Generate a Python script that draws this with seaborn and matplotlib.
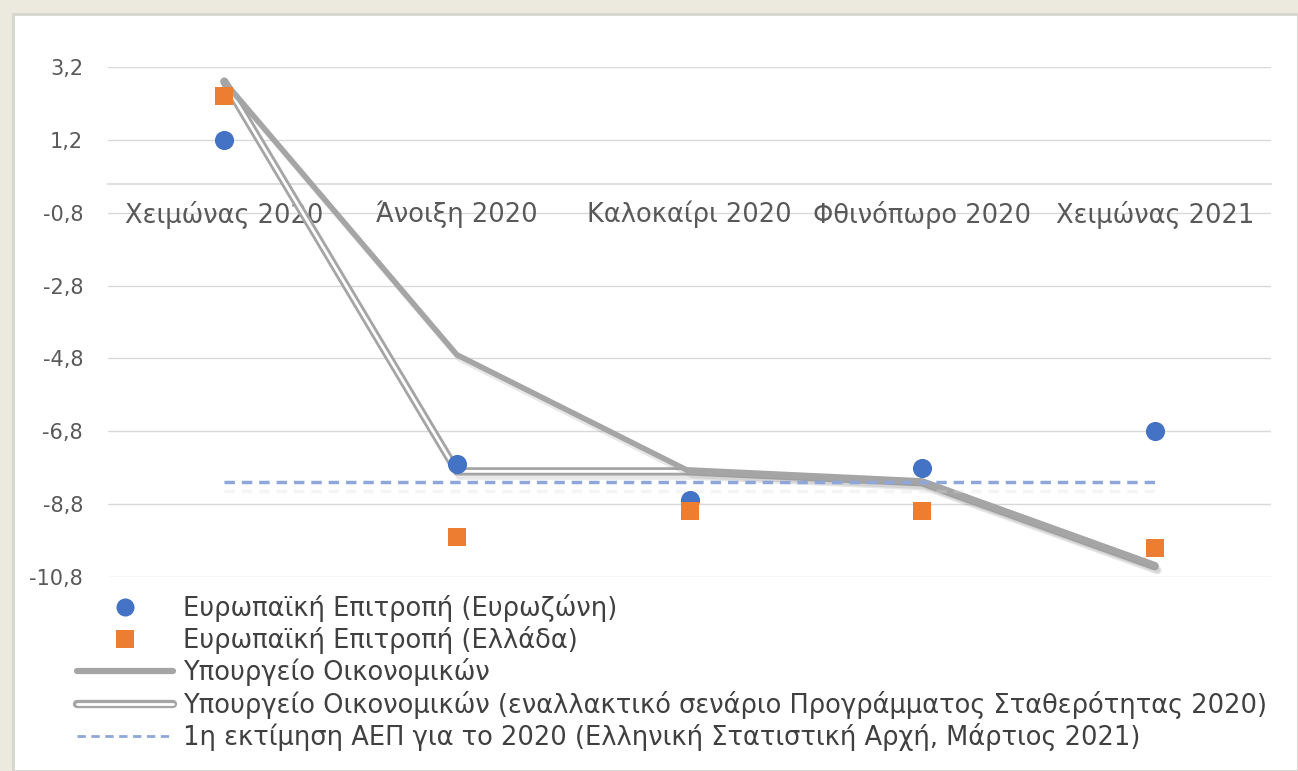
import matplotlib
matplotlib.use("Agg")
import matplotlib.pyplot as plt
import seaborn as sns
import pandas as pd
from matplotlib.lines import Line2D
from matplotlib.legend_handler import HandlerTuple
from matplotlib import patheffects as pe
from matplotlib.patches import Rectangle

# ---------------- data ----------------
categories = ["Χειμώνας 2020", "Άνοιξη 2020", "Καλοκαίρι 2020",
              "Φθινόπωρο 2020", "Χειμώνας 2021"]
ec_eurozone = [1.2, -7.7, -8.7, -7.8, -6.8]
ec_greece = [2.4, -9.7, -9.0, -9.0, -10.0]
minfin = [2.8, -4.7, -7.9, -8.2, -10.5]
minfin_alt = [2.8, -7.9, -7.9, -8.2, -10.5]
elstat_2020 = [-8.2, -8.2, -8.2, -8.2, -8.2]

y_ticks = [3.2, 1.2, -0.8, -2.8, -4.8, -6.8, -8.8, -10.8]
y_tick_labels = ["3,2", "1,2", "-0,8", "-2,8", "-4,8", "-6,8", "-8,8", "-10,8"]

series_labels = [
    "Ευρωπαϊκή Επιτροπή (Ευρωζώνη)",
    "Ευρωπαϊκή Επιτροπή (Ελλάδα)",
    "Υπουργείο Οικονομικών",
    "Υπουργείο Οικονομικών (εναλλακτικό σενάριο Προγράμματος Σταθερότητας 2020)",
    "1η εκτίμηση ΑΕΠ για το 2020 (Ελληνική Στατιστική Αρχή, Μάρτιος 2021)",
]

df = pd.DataFrame({
    "season": categories,
    "ec_eurozone": ec_eurozone,
    "ec_greece": ec_greece,
    "minfin": minfin,
    "minfin_alt": minfin_alt,
    "elstat": elstat_2020,
})

# ---------------- style ----------------
sns.set_theme(style="white")
plt.rcParams['font.family'] = ['DejaVu Sans']

BLUE = "#4472C4"
ORANGE = "#ED7D31"
GRAY = "#A5A5A5"
DASH = "#8FA6DA"
TXT = "#595959"

W, H = 1298, 771
fig = plt.figure(figsize=(W / 100, H / 100), dpi=100, facecolor="#ECEADF")
fig.patches.append(Rectangle((13 / W, 0), 1 - 13 / W, 1 - 14 / H,
                             transform=fig.transFigure, facecolor="white",
                             edgecolor="#D6D6CF", lw=2, zorder=-5))

ax = fig.add_axes([108 / W, 1 - 577 / H, 1163 / W, 510 / H])
ax.set_facecolor("white")

shadow = [pe.SimpleLineShadow(offset=(2, -3), shadow_color="#888888", alpha=0.2), pe.Normal()]

# Alternative scenario: double (compound) line
sns.lineplot(data=df, x="season", y="minfin_alt", ax=ax, sort=False,
             color=GRAY, lw=6, path_effects=shadow, zorder=3)
sns.lineplot(data=df, x="season", y="minfin_alt", ax=ax, sort=False,
             color="white", lw=2, zorder=3.1)
# Main ministry forecast
sns.lineplot(data=df, x="season", y="minfin", ax=ax, sort=False,
             color=GRAY, lw=4, path_effects=shadow, zorder=3.2)
# ELSTAT first estimate
sns.lineplot(data=df, x="season", y="elstat", ax=ax, sort=False,
             color=DASH, lw=2.5, linestyle=(0, (3, 2)),
             path_effects=[pe.SimpleLineShadow(offset=(0, -6), shadow_color="#dddddd", alpha=0.3), pe.Normal()],
             zorder=3.3)

# EC points
sns.scatterplot(data=df, x="season", y="ec_eurozone", ax=ax, marker="o",
                s=190, color=BLUE, edgecolor=BLUE, linewidth=0, zorder=4)
sns.scatterplot(data=df, x="season", y="ec_greece", ax=ax, marker="s",
                s=170, color=ORANGE, edgecolor=ORANGE, linewidth=0, zorder=4.1)

# ---------------- axes ----------------
for s in ["top", "right", "left"]:
    ax.spines[s].set_visible(False)
ax.spines["bottom"].set_position(("data", 0))
ax.spines["bottom"].set_color("#D9D9D9")
ax.spines["bottom"].set_linewidth(1.2)

ax.set_xlim(-0.5, 4.5)
ax.set_ylim(-10.8, 3.2)
ax.set_yticks(y_ticks)
ax.set_yticklabels(y_tick_labels, fontsize=15, color=TXT)
ax.yaxis.grid(True, color="#D9D9D9", lw=1)
ax.xaxis.grid(False)
ax.set_xticks(range(len(categories)))
ax.set_xticklabels(categories, fontsize=18.5, color=TXT)
ax.tick_params(axis="x", length=0, pad=12.5)
ax.tick_params(axis="y", length=0, pad=18)
ax.xaxis.set_zorder(1)
ax.yaxis.set_zorder(0.5)
ax.set_xlabel("")
ax.set_ylabel("")

# ---------------- legend ----------------
handles = [
    Line2D([], [], ls="", marker="o", markersize=13, color=BLUE, markeredgewidth=0),
    Line2D([], [], ls="", marker="s", markersize=12.5, color=ORANGE, markeredgewidth=0),
    Line2D([], [], color=GRAY, lw=4.5),
    (Line2D([], [], color=GRAY, lw=6), Line2D([], [], color="white", lw=2)),
    Line2D([], [], color=DASH, lw=2, linestyle=(0, (3, 2))),
]
fig.legend(handles, series_labels, loc="upper left",
           bbox_to_anchor=(77 / W, 1 - 594 / H), frameon=False,
           fontsize=18.5, labelcolor="#404040", handlelength=3.75,
           handletextpad=0.38, labelspacing=0.165, borderpad=0, borderaxespad=0,
           handler_map={tuple: HandlerTuple(ndivide=1)})

fig.savefig("out.png", dpi=100, facecolor=fig.get_facecolor())
